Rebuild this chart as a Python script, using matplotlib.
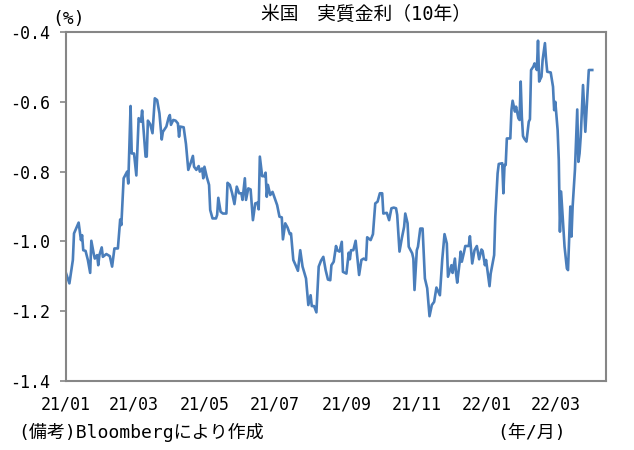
import numpy as np
import pandas as pd
import matplotlib
matplotlib.use('Agg')
import matplotlib.pyplot as plt

plt.rcParams['font.family'] = ['DejaVu Sans Mono', 'Noto Sans CJK JP']

# days since 2021-01-01
days = [0, 3, 6, 7, 11, 13, 14, 15, 17, 19, 21, 22, 24, 25, 27, 28, 29, 31, 32, 35,
        38, 40, 42, 45, 47, 48, 50, 53, 54, 56, 57, 59, 61, 63, 65, 66, 69, 70, 71, 73,
        75, 77, 79, 81, 83, 84, 87, 89, 90, 91, 93, 95, 97, 98, 99, 102, 104, 106, 108, 110,
        111, 113, 115, 116, 118, 119, 120, 122, 124, 125, 127, 130, 131, 132, 134, 136, 139, 140, 142, 144,
        146, 148, 150, 152, 153, 155, 156, 158, 160, 162, 164, 166, 167, 168, 170, 172, 173, 174, 175, 177,
        179, 181, 183, 185, 187, 188, 190, 192, 194, 195, 197, 199, 201, 203, 205, 208, 210, 212, 213, 215,
        217, 219, 221, 223, 225, 227, 229, 230, 232, 234, 235, 237, 239, 240, 243, 245, 246, 247, 249, 251,
        254, 256, 258, 260, 261, 264, 266, 268, 270, 272, 274, 275, 278, 280, 282, 284, 286, 287, 289, 291,
        293, 294, 296, 297, 300, 301, 302, 304, 305, 307, 309, 311, 313, 315, 317, 319, 321, 324, 326, 328,
        330, 331, 334, 335, 337, 338, 339, 341, 342, 343, 345, 346, 349, 350, 352, 354, 356, 358, 360, 361,
        363, 364, 367, 368, 371, 372, 374, 375, 378, 379, 380, 381, 382, 385, 386, 387, 389, 390, 392, 393,
        394, 395, 396, 397, 399, 401, 402, 403, 405, 406, 408, 409, 410, 412, 413, 415, 416, 417, 420, 422,
        423, 424, 426, 427, 428, 429, 431, 432, 434, 435, 437, 438, 439, 441, 443, 444, 445, 446, 448, 450,
        453, 456]

real_rate = [-1.090, -1.120, -1.053, -0.977, -0.946, -0.996, -0.982, -1.025, -1.027, -1.053,
             -1.090, -0.998, -1.034, -1.049, -1.039, -1.068, -1.039, -1.017, -1.044, -1.036,
             -1.042, -1.072, -1.020, -1.020, -0.937, -0.953, -0.819, -0.800, -0.834, -0.612,
             -0.748, -0.748, -0.811, -0.647, -0.657, -0.625, -0.757, -0.757, -0.654, -0.664,
             -0.690, -0.590, -0.595, -0.633, -0.708, -0.686, -0.671, -0.645, -0.638, -0.666,
             -0.652, -0.654, -0.662, -0.700, -0.671, -0.673, -0.721, -0.795, -0.776, -0.755,
             -0.786, -0.795, -0.784, -0.800, -0.791, -0.819, -0.786, -0.815, -0.838, -0.910,
             -0.934, -0.934, -0.924, -0.875, -0.915, -0.920, -0.920, -0.832, -0.838, -0.862,
             -0.893, -0.843, -0.862, -0.862, -0.881, -0.819, -0.881, -0.848, -0.851, -0.939,
             -0.891, -0.889, -0.908, -0.757, -0.813, -0.813, -0.803, -0.872, -0.838, -0.867,
             -0.858, -0.877, -0.896, -0.929, -0.931, -0.994, -0.948, -0.960, -0.979, -0.977,
             -1.053, -1.068, -1.084, -1.025, -1.072, -1.106, -1.182, -1.154, -1.185, -1.185,
             -1.203, -1.072, -1.055, -1.044, -1.082, -1.109, -1.111, -1.068, -1.058, -1.013,
             -1.025, -1.029, -1.001, -1.087, -1.092, -1.032, -1.051, -1.025, -1.025, -0.998,
             -1.096, -1.053, -1.049, -1.053, -0.988, -0.996, -0.979, -0.891, -0.886, -0.862,
             -0.862, -0.920, -0.918, -0.939, -0.905, -0.903, -0.905, -0.924, -1.029, -0.991,
             -0.958, -0.920, -0.948, -1.015, -1.034, -1.049, -1.139, -1.025, -1.015, -0.963,
             -0.963, -1.106, -1.134, -1.214, -1.182, -1.173, -1.132, -1.154, -1.053, -0.979,
             -1.006, -1.101, -1.068, -1.090, -1.049, -1.092, -1.118, -1.063, -1.029, -1.058,
             -1.029, -1.013, -1.013, -0.985, -1.063, -1.025, -1.013, -1.051, -1.023, -1.027,
             -1.068, -1.053, -1.128, -1.092, -1.039, -0.929, -0.805, -0.778, -0.776, -0.862,
             -0.781, -0.781, -0.705, -0.705, -0.624, -0.597, -0.628, -0.614, -0.647, -0.652,
             -0.542, -0.643, -0.698, -0.705, -0.714, -0.657, -0.650, -0.509, -0.499, -0.490,
             -0.509, -0.425, -0.542, -0.528, -0.480, -0.432, -0.480, -0.514, -0.516, -0.557,
             -0.624, -0.600, -0.681, -0.767, -0.972, -0.857, -0.963, -1.015, -1.077, -1.082,
             -0.900, -0.986, -0.900, -0.795, -0.622, -0.772, -0.748, -0.700, -0.552, -0.686,
             -0.509, -0.509]

xtick_dates = ['2021-01-01', '2021-03-01', '2021-05-01', '2021-07-01',
               '2021-09-01', '2021-11-01', '2022-01-01', '2022-03-01']
xtick_labels = ['21/01', '21/03', '21/05', '21/07', '21/09', '21/11', '22/01', '22/03']
yticks = [-0.4, -0.6, -0.8, -1.0, -1.2, -1.4]
ytick_labels = ['-0.4', '-0.6', '-0.8', '-1.0', '-1.2', '-1.4']

dates = pd.Timestamp('2021-01-01') + pd.to_timedelta(days, unit='D')

fig = plt.figure(figsize=(6.34, 4.5), dpi=100)
ax = fig.add_axes([0.104, 0.153, 0.852, 0.776])

ax.plot(dates, real_rate, color='#4a7ebb', linewidth=1.9, solid_joinstyle='round')

ax.set_xlim(pd.Timestamp('2021-01-01'), pd.Timestamp('2022-04-14'))
ax.set_ylim(-1.4, -0.4)
ax.set_yticks(yticks)
ax.set_yticklabels(ytick_labels, fontsize=12)
ax.set_xticks(pd.to_datetime(xtick_dates))
ax.set_xticklabels(xtick_labels, fontsize=12)
ax.tick_params(axis='x', length=0, pad=10)
ax.tick_params(axis='y', length=4.5, width=1.2, color='#868686', pad=7)

for s in ax.spines.values():
    s.set_color('#868686')
    s.set_linewidth(1.5)

fig.text(0.577, 0.967, '米国　実質金利（10年）', ha='center', va='center', fontsize=13.5)
fig.text(0.082, 0.957, '(%)', ha='left', va='center', fontsize=13)
fig.text(0.028, 0.038, '(備考)Bloombergにより作成', ha='left', va='center', fontsize=13)
fig.text(0.784, 0.038, '(年/月)', ha='left', va='center', fontsize=13)

fig.savefig('out.png', dpi=100)
